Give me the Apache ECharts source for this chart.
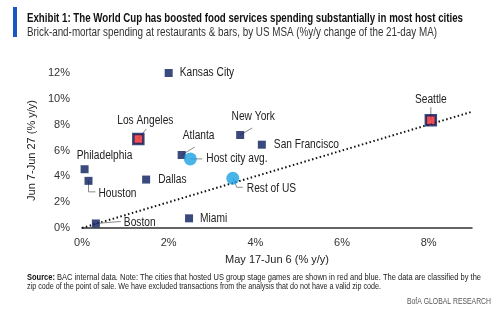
<!DOCTYPE html>
<html><head><meta charset="utf-8">
<script src="https://cdn.jsdelivr.net/npm/echarts@6/dist/echarts.min.js"></script>
<style>html,body{margin:0;padding:0;background:#fff}#c{width:500px;height:310px}</style>
</head><body><div id="c"></div>
<script>
// ---- data ----
const cities = ['Kansas City','Los Angeles','Atlanta','Host city avg.','New York','San Francisco','Philadelphia','Houston','Dallas','Rest of US','Boston','Miami','Seattle'];
const mayJun = [2.0, 1.3, 2.3, 2.5, 3.65, 4.15, 0.06, 0.15, 1.48, 3.48, 0.32, 2.47, 8.05];
const junJun = [12.0, 6.9, 5.65, 5.35, 7.2, 6.45, 4.55, 3.65, 3.75, 3.85, 0.35, 0.75, 8.35];
const kind   = ['city','host','city','avg','city','city','city','city','city','avg','city','city','host'];
const trendX = [0, 9];
const trendY = [0, 9];
const xTicks = [0, 2, 4, 6, 8];
const yTicks = [0, 2, 4, 6, 8, 10, 12];

// ---- label placement (style, pixel offsets from the mark) ----
const labelPos = {
  'Kansas City':   {dx:11, dy:0, align:'left'},
  'Los Angeles':   {dx:7, dy:-18, align:'center', path:[[0,0],[8,-10]]},
  'Atlanta':       {dx:17, dy:-19, align:'center', path:[[0,0],[13,-8]]},
  'New York':      {dx:13, dy:-18, align:'center', path:[[0,0],[12,-7]]},
  'Seattle':       {dx:0, dy:-20, align:'center', path:[[0,0],[0,-13]]},
  'Host city avg.':{dx:16, dy:0, align:'left', path:[[0,0],[12,0]]},
  'Rest of US':    {dx:14, dy:10, align:'left', path:[[0,0],[4,9],[10,9]]},
  'Houston':       {dx:10, dy:13, align:'left', path:[[0,0],[0,11],[7,11]]},
  'Boston':        {dx:28, dy:-1, align:'left', path:[[0,0],[25,-2]]},
  'Dallas':        {dx:12, dy:0, align:'left'},
  'Miami':         {dx:11, dy:0, align:'left'},
  'San Francisco': {dx:12, dy:0, align:'left'},
  'Philadelphia':  {dx:20, dy:-14, align:'center'}
};

const NAVY = '#0a1d5c', RED = '#e8262b', LBLUE = '#1ba1e2';
const FONT = '"Liberation Sans", Arial, sans-serif';
const COND = 0.85; // horizontal squeeze to imitate the condensed house font

const mctx = document.createElement('canvas').getContext('2d');
function fitScale(text, font, width) { mctx.font = font; return width / mctx.measureText(text).width; }

const pts = cities.map((c, i) => {
  const k = kind[i];
  let item = {name: c, value: [mayJun[i], junJun[i]]};
  if (k === 'city') { item.symbol = 'rect'; item.symbolSize = 8; item.itemStyle = {color: NAVY}; }
  else if (k === 'host') { item.symbol = 'rect'; item.symbolSize = 10; item.itemStyle = {color: RED, borderColor: NAVY, borderWidth: 2.5}; }
  else { item.symbol = 'circle'; item.symbolSize = 13; item.itemStyle = {color: LBLUE}; }
  return item;
});

const T1 = 'Exhibit 1: The World Cup has boosted food services spending substantially in most host cities';
const T2 = 'Brick-and-mortar spending at restaurants & bars, by US MSA (%y/y change of the 21-day MA)';
const F1a = 'Source:';
const F1b = ' BAC internal data. Note: The cities that hosted US group stage games are shown in red and blue. The data are classified by the';
const F2 = 'zip code of the point of sale. We have excluded transactions from the analysis that do not have a valid zip code.';
const F3 = 'BofA GLOBAL RESEARCH';
const fT1 = 'bold 12.5px ' + FONT, fT2 = '12px ' + FONT, fF = '9.5px ' + FONT, fFb = 'bold 9.5px ' + FONT, fB = '8.5px ' + FONT;
const s1 = fitScale(T1, fT1, 436), s2 = fitScale(T2, fT2, 410);
mctx.font = fFb; const wA = mctx.measureText(F1a).width; mctx.font = fF; const wB = mctx.measureText(F1b).width;
const s3 = 454 / (wA + wB);
const s4 = fitScale(F2, fF, 354);
const s5 = fitScale(F3, fB, 84);

const chart = echarts.init(document.getElementById('c'), null, {renderer: 'canvas'});
const staticGraphics = [
  {type: 'rect', shape: {x: 13, y: 7, width: 4, height: 30}, style: {fill: '#1a57c6'}},
  {type: 'text', x: 27, y: 12, scaleX: s1, style: {text: T1, font: fT1, fill: '#111'}},
  {type: 'text', x: 27, y: 27, scaleX: s2, style: {text: T2, font: fT2, fill: '#333'}},
  {type: 'text', x: 27, y: 272, scaleX: s3, style: {text: F1a, font: fFb, fill: '#111'}},
  {type: 'text', x: 27 + wA * s3, y: 272, scaleX: s3, style: {text: F1b, font: fF, fill: '#222'}},
  {type: 'text', x: 27, y: 281, scaleX: s4, style: {text: F2, font: fF, fill: '#222'}},
  {type: 'text', x: 491 - 84, y: 297, scaleX: s5, style: {text: F3, font: fB, fill: '#555'}}
];

chart.setOption({
  animation: false,
  backgroundColor: '#fff',
  textStyle: {fontFamily: FONT},
  graphic: staticGraphics,
  grid: {left: 82, right: 28, top: 73, bottom: 82, containLabel: false},
  xAxis: {
    type: 'value', min: xTicks[0], max: trendX[1], interval: 2,
    name: 'May 17-Jun 6 (% y/y)', nameLocation: 'middle', nameGap: 26,
    nameTextStyle: {fontSize: 11, color: '#222', fontFamily: FONT},
    axisLine: {show: true, lineStyle: {color: '#333', width: 1.5}},
    axisTick: {show: false}, splitLine: {show: false},
    axisLabel: {formatter: '{value}%', fontSize: 11, color: '#333', margin: 9, showMaxLabel: false, fontFamily: FONT}
  },
  yAxis: {
    type: 'value', min: yTicks[0], max: yTicks[yTicks.length - 1], interval: 2,
    name: 'Jun 7-Jun 27 (% y/y)', nameLocation: 'middle', nameGap: 18,
    nameTextStyle: {fontSize: 11, color: '#222', fontFamily: FONT},
    axisLine: {show: false}, axisTick: {show: false}, splitLine: {show: false},
    axisLabel: {formatter: '{value}%', fontSize: 11, color: '#333', margin: 12, fontFamily: FONT}
  },
  series: [
    {
      type: 'line', data: trendX.map((x, i) => [x, trendY[i]]), symbol: 'none', silent: true,
      lineStyle: {color: '#111', width: 2, type: [1.5, 2.5]}, z: 1
    },
    {
      type: 'scatter', data: pts, z: 3, clip: false
    }
  ]
});

// point labels and leader lines, anchored through the chart's own coordinate conversion
const extra = [];
cities.forEach((c, i) => {
  const o = labelPos[c];
  const p = chart.convertToPixel({gridIndex: 0}, [mayJun[i], junJun[i]]);
  extra.push({type: 'text', z: 4, silent: true, x: p[0] + o.dx, y: p[1] + o.dy, scaleX: COND,
    style: {text: c, font: '12px ' + FONT, fill: '#222', textAlign: o.align, textVerticalAlign: 'middle'}});
  if (o.path) extra.push({type: 'polyline', z: 2, silent: true,
    shape: {points: o.path.map(d => [p[0] + d[0], p[1] + d[1]])},
    style: {stroke: '#8a8a8a', lineWidth: 1, fill: null}});
});
chart.setOption({graphic: staticGraphics.concat(extra)});
</script></body></html>
